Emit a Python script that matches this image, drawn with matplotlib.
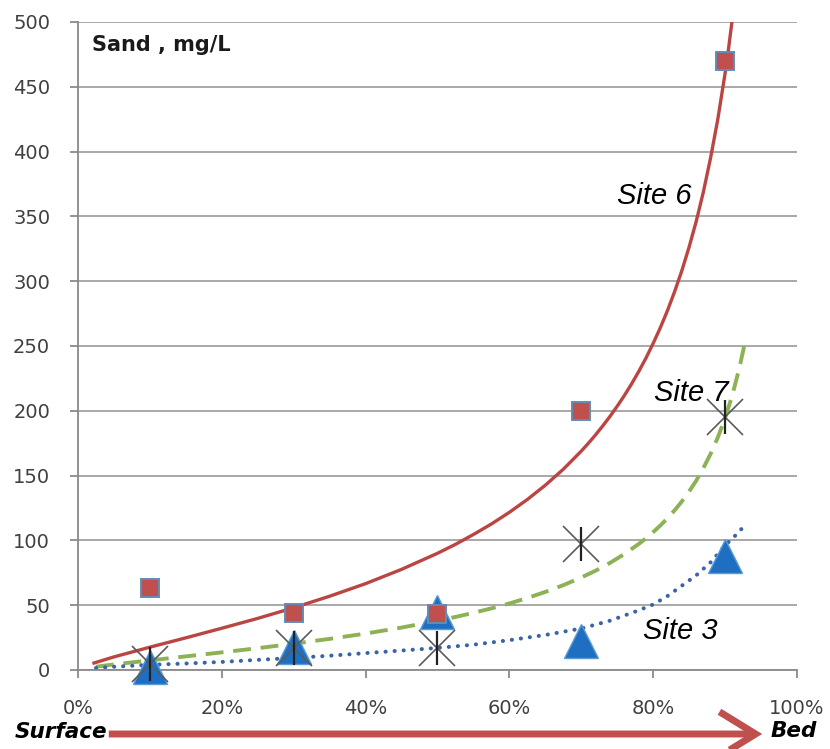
import matplotlib
matplotlib.use("Agg")
import matplotlib.pyplot as plt
from matplotlib.patches import FancyArrowPatch
from matplotlib.ticker import FuncFormatter

# Relative depth (fraction of flow depth, surface -> bed)
depth = [0.1, 0.3, 0.5, 0.7, 0.9]

# Measured sand concentration, mg/L
site6 = [63, 44, 43, 200, 470]
site7 = [5, 17, 17, 97, 195]
site3 = [2, 18, 45, 22, 88]

# Fitted profile curves
site6_fit_x = [0.02, 0.05, 0.10, 0.15, 0.20, 0.25, 0.30, 0.35, 0.40, 0.45, 0.50,
               0.525, 0.55, 0.575, 0.60, 0.625, 0.65, 0.675, 0.70, 0.71, 0.72, 0.73,
               0.74, 0.75, 0.76, 0.77, 0.78, 0.79, 0.80, 0.81, 0.82, 0.83,
               0.84, 0.85, 0.86, 0.87, 0.88, 0.89, 0.90, 0.905, 0.91]
site6_fit_y = [5.0, 10.1, 17.6, 24.8, 32.2, 39.8, 48.0, 56.9, 66.6, 77.6, 90.0,
               96.9, 104.5, 112.6, 121.6, 131.5, 142.5, 154.8, 168.8, 174.9, 181.4, 188.3,
               195.6, 203.4, 211.7, 220.6, 230.2, 240.5, 251.8, 263.9, 277.2, 291.9,
               308.0, 326.0, 346.0, 368.8, 395.0, 424.6, 459.5, 479.3, 501.0]

site7_fit_x = [0.025, 0.05, 0.10, 0.15, 0.20, 0.25, 0.30, 0.35, 0.40, 0.45, 0.50,
               0.525, 0.55, 0.575, 0.60, 0.625, 0.65, 0.675, 0.70, 0.72, 0.74, 0.76,
               0.78, 0.79, 0.80, 0.81, 0.82, 0.83, 0.84, 0.85, 0.86,
               0.87, 0.88, 0.89, 0.90, 0.91, 0.92, 0.928]
site7_fit_y = [2.5, 4.3, 7.4, 10.5, 13.6, 16.8, 20.3, 24.0, 28.1, 32.7, 38.0,
               40.9, 44.1, 47.5, 51.3, 55.5, 60.2, 65.4, 71.3, 76.6, 82.6, 89.4,
               97.2, 101.5, 106.3, 111.4, 117.0, 123.2, 130.0, 137.6, 146.0,
               155.7, 166.7, 179.3, 194.0, 211.5, 232.7, 253.0]

site3_fit_x = [0.025, 0.05, 0.10, 0.15, 0.20, 0.25, 0.30, 0.35, 0.40, 0.45, 0.50,
               0.55, 0.60, 0.65, 0.70, 0.72, 0.74, 0.76, 0.78, 0.80, 0.82, 0.84,
               0.86, 0.88, 0.90, 0.915, 0.925]
site3_fit_y = [1.5, 2.5, 4.0, 5.0, 6.2, 7.8, 9.3, 11.0, 13.0, 15.0, 17.0,
               19.5, 23.0, 27.0, 32.0, 35.0, 38.0, 42.0, 46.0, 50.5, 57.0, 65.0,
               73.0, 83.0, 96.0, 104.0, 110.0]

y_ticks = [0, 50, 100, 150, 200, 250, 300, 350, 400, 450, 500]
x_ticks = [0.0, 0.2, 0.4, 0.6, 0.8, 1.0]

RED = "#BA4543"
GREEN = "#8DB255"
BLUE_DOT = "#3A64A8"
TRI = "#1E6FC2"
GRID = "#A8A8A8"
LABEL = "#404040"

fig = plt.figure(figsize=(8.30, 7.49), dpi=100)
ax = fig.add_axes([0.094, 0.1055, 0.866, 0.8652])

ax.set_xlim(0, 1)
ax.set_ylim(0, 500)

ax.set_yticks(y_ticks)
ax.set_xticks(x_ticks)
ax.xaxis.set_major_formatter(FuncFormatter(lambda v, p: f"{v * 100:.0f}%"))
ax.grid(axis="y", color=GRID, linewidth=1.4, zorder=0)
ax.set_axisbelow(True)

for s in ("top", "right"):
    ax.spines[s].set_visible(False)
for s in ("left", "bottom"):
    ax.spines[s].set_color("#8A8A8A")
    ax.spines[s].set_linewidth(1.3)

ax.tick_params(axis="both", colors="#8A8A8A", length=6, width=1.3,
               labelcolor=LABEL, labelsize=14)
ax.tick_params(axis="x", pad=15)
ax.tick_params(axis="y", pad=14)
for lbl in ax.get_xticklabels() + ax.get_yticklabels():
    lbl.set_fontfamily("DejaVu Sans")

# Fitted curves
ax.plot(site6_fit_x, site6_fit_y, color=RED, lw=2.4, zorder=2,
        solid_capstyle="butt", solid_joinstyle="round")
ax.plot(site7_fit_x, site7_fit_y, color=GREEN, lw=2.8, zorder=2,
        dashes=(4.6, 2.5), dash_capstyle="butt")
ax.plot(site3_fit_x, site3_fit_y, color=BLUE_DOT, lw=2.9, zorder=2,
        linestyle=(0, (0.05, 2.2)), dash_capstyle="round")

# Measured points
ax.plot(depth, site3, linestyle="none", marker="^", markersize=24,
        markerfacecolor=TRI, markeredgecolor="#5B9BD5", markeredgewidth=1.0,
        zorder=4, clip_on=False)
ax.plot(depth, site6, linestyle="none", marker="s", markersize=13,
        markerfacecolor="#C0504D", markeredgecolor="#5F8DB5", markeredgewidth=1.4,
        zorder=5, clip_on=False)
ax.plot(depth, site7, linestyle="none", marker="x", markersize=26,
        markeredgecolor="#5A5A5A", markeredgewidth=1.2, zorder=6, clip_on=False)
ax.plot(depth, site7, linestyle="none", marker="|", markersize=24,
        markeredgecolor="#222222", markeredgewidth=1.6, zorder=6, clip_on=False)

# Annotations
ax.text(0.0195, 482, "Sand , mg/L", fontsize=15, fontweight="bold",
        family="DejaVu Sans", color="#1A1A1A", va="center", ha="left")
site_font = dict(fontsize=21, style="italic", family="Liberation Sans",
                 color="black", va="center", ha="left")
ax.text(0.750, 366, "Site 6", **site_font)
ax.text(0.802, 214, "Site 7", **site_font)
ax.text(0.786, 30, "Site 3", **site_font)

# Surface -> Bed direction arrow
edge_font = dict(fontsize=15.5, fontweight="bold", style="italic",
                 family="DejaVu Sans", color="black", va="center")
fig.text(15 / 830, 1 - 732 / 749, "Surface", ha="left", **edge_font)
fig.text(771 / 830, 1 - 731 / 749, "Bed", ha="left", **edge_font)
arrow = FancyArrowPatch((106 / 830, 1 - 734 / 749), (765 / 830, 1 - 734 / 749),
                        transform=fig.transFigure,
                        arrowstyle="->,head_length=13,head_width=8",
                        color="#C0504D", linewidth=5.0, mutation_scale=2,
                        joinstyle="miter", capstyle="butt")
fig.add_artist(arrow)

fig.savefig("out.png", dpi=100)
